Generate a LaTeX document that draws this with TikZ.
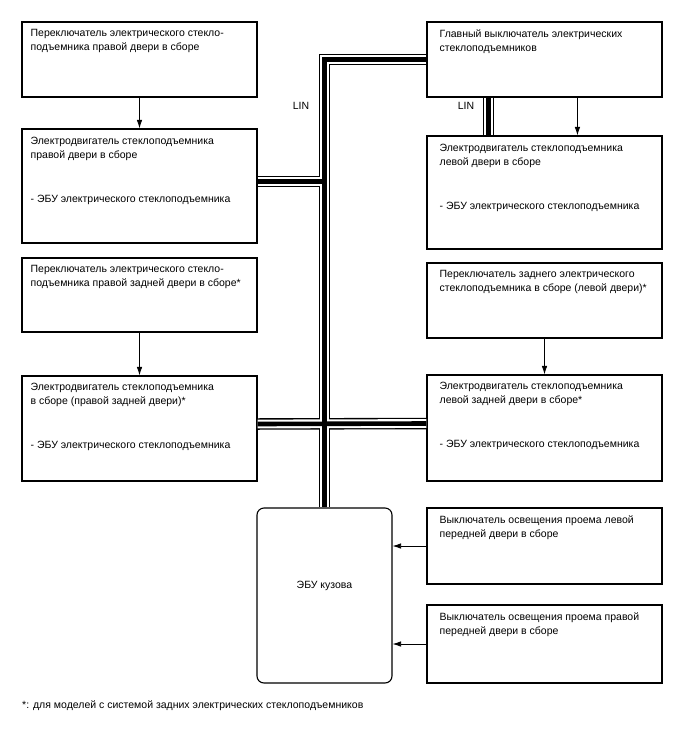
\documentclass[tikz,border=0pt]{standalone}
\usepackage{fontspec}
\setmainfont{Liberation Sans}
\usetikzlibrary{arrows.meta,calc}
\begin{document}
\begin{tikzpicture}[x=1pt,y=-1pt,
  box/.style={draw,line width=1.1pt,rectangle,minimum width=235pt,inner sep=0pt},
  txt/.style={anchor=north west,inner sep=0pt,align=left,font=\fontsize{10.5}{14}\selectfont},
  lbl/.style={inner sep=0pt,font=\fontsize{10.5}{14}\selectfont},
  arr/.style={line width=0.8pt,-{Latex[length=8.5pt,width=5.5pt]}},
]
\useasboundingbox[fill=white] (0,0) rectangle (688,755);
% boxes
\node[box,minimum height=75pt]  (A) at (139.5,59.5) {};
\node[box,minimum height=75pt]  (B) at (544.5,59.5) {};
\node[box,minimum height=114pt] (C) at (139.5,186) {};
\node[box,minimum height=113pt] (D) at (544.5,192.5) {};
\node[box,minimum height=74pt]  (E) at (139.5,295) {};
\node[box,minimum height=75pt]  (F) at (544.5,300.5) {};
\node[box,minimum height=105pt] (G) at (139.5,428.5) {};
\node[box,minimum height=106pt] (H) at (544.5,428) {};
\node[box,minimum width=135pt,minimum height=175pt,rounded corners=7pt] (I) at (324.5,595.5) {};
\node[box,minimum height=76pt]  (J) at (544.5,546) {};
\node[box,minimum height=78pt]  (K) at (544.5,644) {};
% texts
\node[txt] (At) at ($(A.north west)+(9,8)$) {Переключатель электрического стекло-\\подъемника правой двери в сборе};
\node[txt] (Bt) at ($(B.north west)+(13,8)$) {Главный выключатель электрических\\стеклоподъемников};
\node[txt] (Ct) at ($(C.north west)+(9,9)$) {Электродвигатель стеклоподъемника\\правой двери в сборе\\[30pt]- ЭБУ электрического стеклоподъемника};
\node[txt] (Dt) at ($(D.north west)+(13,9)$) {Электродвигатель стеклоподъемника\\левой двери в сборе\\[30pt]- ЭБУ электрического стеклоподъемника};
\node[txt] (Et) at ($(E.north west)+(9,8)$) {Переключатель электрического стекло-\\подъемника правой задней двери в сборе*};
\node[txt] (Ft) at ($(F.north west)+(13,8)$) {Переключатель заднего электрического\\стеклоподъемника в сборе (левой двери)*};
\node[txt] (Gt) at ($(G.north west)+(9,8)$) {Электродвигатель стеклоподъемника\\в сборе (правой задней двери)*\\[30pt]- ЭБУ электрического стеклоподъемника};
\node[txt] (Ht) at ($(H.north west)+(13,8)$) {Электродвигатель стеклоподъемника\\левой задней двери в сборе*\\[30pt]- ЭБУ электрического стеклоподъемника};
\node[lbl] (It) at ([yshift=10pt]I.center) {ЭБУ кузова};
\node[txt] (Jt) at ($(J.north west)+(13,8)$) {Выключатель освещения проема левой\\передней двери в сборе};
\node[txt] (Kt) at ($(K.north west)+(13,8)$) {Выключатель освещения проема правой\\передней двери в сборе};
\node[lbl] (lin1) at (301,106) {LIN};
\node[lbl] (lin2) at (466,106) {LIN};
\node[lbl,anchor=west] (fn) at (22,706) {*: для моделей с системой задних электрических стеклоподъемников};
% bus coordinates
\coordinate (bt) at ($(B.south west)+(62,0)$);
\coordinate (bb) at (bt |- D.north);
\coordinate (ca) at ([yshift=4.5pt]C.east);
\coordinate (ga) at ([yshift=4.5pt]G.east);
\coordinate (ha) at ([yshift=4.5pt]H.west);
\foreach \w/\c in {11.5/black,8.8/white,4.6/black}{
  \draw[line width=\w pt,\c,line join=miter] (B.west) -| (I.north);
  \draw[line width=\w pt,\c] (ca) -- (ca -| I.north);
  \draw[line width=\w pt,\c] (ga) -- (ha);
  \draw[line width=\w pt,\c] (bt) -- (bb);
}
% arrows
\coordinate (bs) at ($(B.south west)+(151,0)$);
\draw[arr] (A) -- (C);
\draw[arr] (E) -- (G);
\draw[arr] (F) -- (H);
\draw[arr] (bs) -- (bs |- D.north);
\draw[arr] (J.west) -- (J.west -| I.east);
\draw[arr] (K.west) -- (K.west -| I.east);
\end{tikzpicture}
\end{document}
